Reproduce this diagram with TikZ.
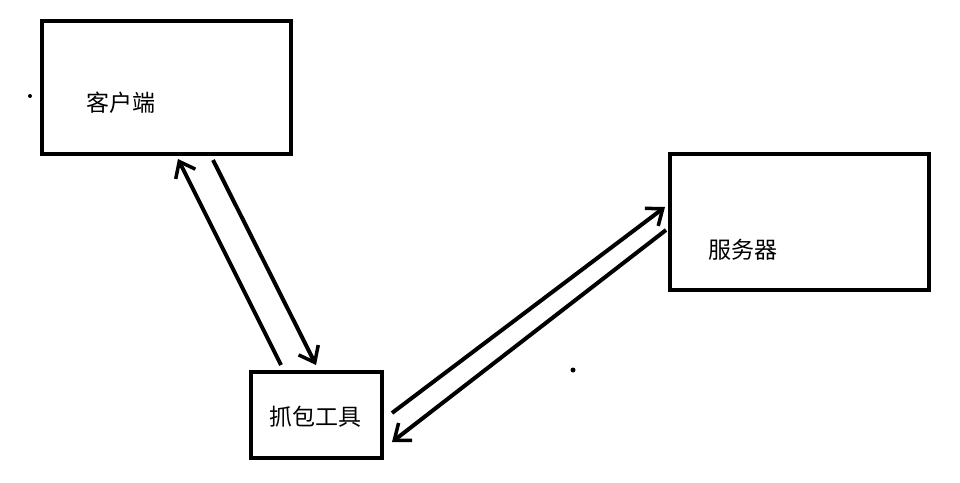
\documentclass[tikz,border=0pt]{standalone}
\usepackage{fontspec}
\setmainfont{Noto Sans CJK SC}
\usetikzlibrary{arrows.meta}
\tikzset{
  box/.style={draw, line width=4pt, inner sep=0pt, minimum width=#1},
  boxtext/.style={font=\fontsize{23}{26}\selectfont, inner sep=0pt}
}
\begin{document}
\begin{tikzpicture}[x=1pt, y=-1pt, line width=4pt,
    >={Straight Barb[length=14pt, width=22pt, line width=3.5pt]}]
\useasboundingbox (0,0) rectangle (960,482);

\node[box=249pt, minimum height=133pt] (client) at (166.5,87.5) {};
\node[box=259pt, minimum height=136pt] (server) at (799.5,222) {};
\node[box=131pt, minimum height=86pt] (tool) at (316.5,415) {};

\node[boxtext] (clienttext) at (121,103) {客户端};
\node[boxtext] (servertext) at (743,250) {服务器};
\node[boxtext] (tooltext) at (315,417) {抓包工具};

\draw[->] ([xshift=32pt,yshift=5pt]tool.north west)--([xshift=138pt,yshift=-3pt]client.south west);
\draw[->] ([xshift=173pt,yshift=-4pt]client.south west)--([xshift=67pt,yshift=5pt]tool.north west);
\draw[->] ([xshift=8pt,yshift=2pt]tool.east)--([xshift=-3pt,yshift=15pt]server.west);
\draw[->] ([xshift=-2pt,yshift=-8pt]server.west)--([xshift=8pt,yshift=18pt]tool.south east);

\fill (30,96) circle (2pt);
\fill (573,370) circle (2.5pt);

\end{tikzpicture}
\end{document}
